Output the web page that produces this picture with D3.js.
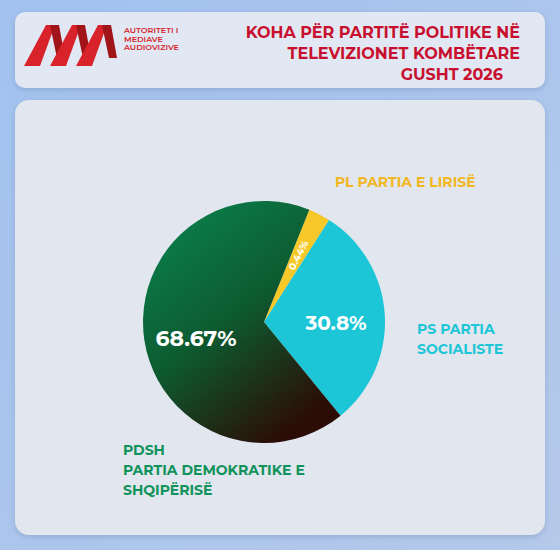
<!DOCTYPE html><html><head><meta charset="utf-8"><script src="https://cdn.jsdelivr.net/npm/d3@7"></script>
<style>body{margin:0;background:#a8c4ec}</style></head><body><script>
const parties=["PL PARTIA E LIRISË","PS PARTIA SOCIALISTE","PDSH PARTIA DEMOKRATIKE E SHQIPËRISË"];
const shares=[0.44,30.8,68.67];
const labels=["0.44%","30.8%","68.67%"];
const W=560,H=550;
const svg=d3.select("body").append("svg").attr("width",W).attr("height",H).style("font-family","Montserrat, 'Open Sans', sans-serif");
const defs=svg.append("defs");
const bg=defs.append("linearGradient").attr("id","bg").attr("x1",0).attr("y1",0).attr("x2",1).attr("y2",1);
bg.append("stop").attr("offset",0).attr("stop-color","#a2c2f0");bg.append("stop").attr("offset",1).attr("stop-color","#b5c9ea");
svg.append("rect").attr("width",W).attr("height",H).attr("fill","url(#bg)");
const sh=defs.append("filter").attr("id","sh").attr("x",-0.1).attr("y",-0.1).attr("width",1.2).attr("height",1.2);
sh.append("feDropShadow").attr("dx",0).attr("dy",2).attr("stdDeviation",3).attr("flood-color","#7890b8").attr("flood-opacity",0.5);
svg.append("rect").attr("x",15).attr("y",12).attr("width",530).attr("height",76).attr("rx",10).attr("fill","#e1e8f4").attr("filter","url(#sh)");
svg.append("rect").attr("x",15).attr("y",100).attr("width",530).attr("height",435).attr("rx",14).attr("fill","#e1e6ef").attr("filter","url(#sh)");
// logo
const lg=svg.append("g").attr("fill","#d8232a");
[0,1,2].forEach(i=>{const x=24+i*26;lg.append("path").attr("d",`M${x},66 L${x+22},25 L${x+31},25 L${x+16},66 Z`);
 lg.append("path").attr("d",`M${x+26},25 L${x+35},25 L${x+41},58 L${x+33},58 Z`).attr("fill","#a0141a");});
["AUTORITETI I","MEDIAVE","AUDIOVIZIVE"].forEach((t,i)=>svg.append("text").attr("x",124).attr("y",33+i*8.5).attr("font-size",8).attr("font-weight",600).attr("fill","#d8232a").text(t));
["KOHA PËR PARTITË POLITIKE NË","TELEVIZIONET KOMBËTARE","GUSHT 2026"].forEach((t,i)=>svg.append("text").attr("x",i==2?503:520).attr("y",38+i*21).attr("text-anchor","end").attr("font-size",16).attr("font-weight",700).attr("fill","#c8102e").text(t));
// pie
const cx=264,cy=322,r=121;
const g1=defs.append("linearGradient").attr("id","gr").attr("x1",0.2).attr("y1",0.1).attr("x2",0.75).attr("y2",0.95);
g1.append("stop").attr("offset",0).attr("stop-color","#0b7a48");g1.append("stop").attr("offset",0.45).attr("stop-color","#0d5a30");g1.append("stop").attr("offset",1).attr("stop-color","#2b0c06");
const colors=["#f6c928","#1cc6d6","url(#gr)"];
const pie=d3.pie().sort(null).value(d=>Math.max(d,3)).startAngle(22*Math.PI/180).endAngle(382*Math.PI/180);
const arcs=pie(shares);
const arc=d3.arc().innerRadius(0).outerRadius(r);
const pg=svg.append("g").attr("transform",`translate(${cx},${cy})`);
pg.selectAll("path").data(arcs).join("path").attr("d",arc).attr("fill",(d,i)=>colors[i]);
const a0=arcs[0],m0=(a0.startAngle+a0.endAngle)/2,rr=r*0.62;
pg.append("text").attr("transform",`translate(${rr*Math.sin(m0)},${-rr*Math.cos(m0)}) rotate(${m0*180/Math.PI-90})`).attr("text-anchor","middle").attr("dy","0.35em").attr("font-size",10).attr("font-weight",700).attr("fill","#fff").text(labels[0]);
pg.append("text").attr("x",72).attr("y",8).attr("text-anchor","middle").attr("font-size",20).attr("font-weight",700).attr("fill","#fff").text(labels[1]);
pg.append("text").attr("x",-68).attr("y",24).attr("text-anchor","middle").attr("font-size",22).attr("font-weight",700).attr("fill","#fff").text(labels[2]);
const lab=(lines,x,y,c,anchor)=>lines.forEach((t,i)=>svg.append("text").attr("x",x).attr("y",y+i*20).attr("text-anchor",anchor).attr("font-size",14).attr("font-weight",700).attr("fill",c).text(t));
lab(["PL PARTIA E LIRISË"],335,187,"#f2b824","start");
lab(["PS PARTIA","SOCIALISTE"],417,334,"#1cc6d6","start");
lab(["PDSH","PARTIA DEMOKRATIKE E","SHQIPËRISË"],123,455,"#10935a","start");
</script></body></html>
